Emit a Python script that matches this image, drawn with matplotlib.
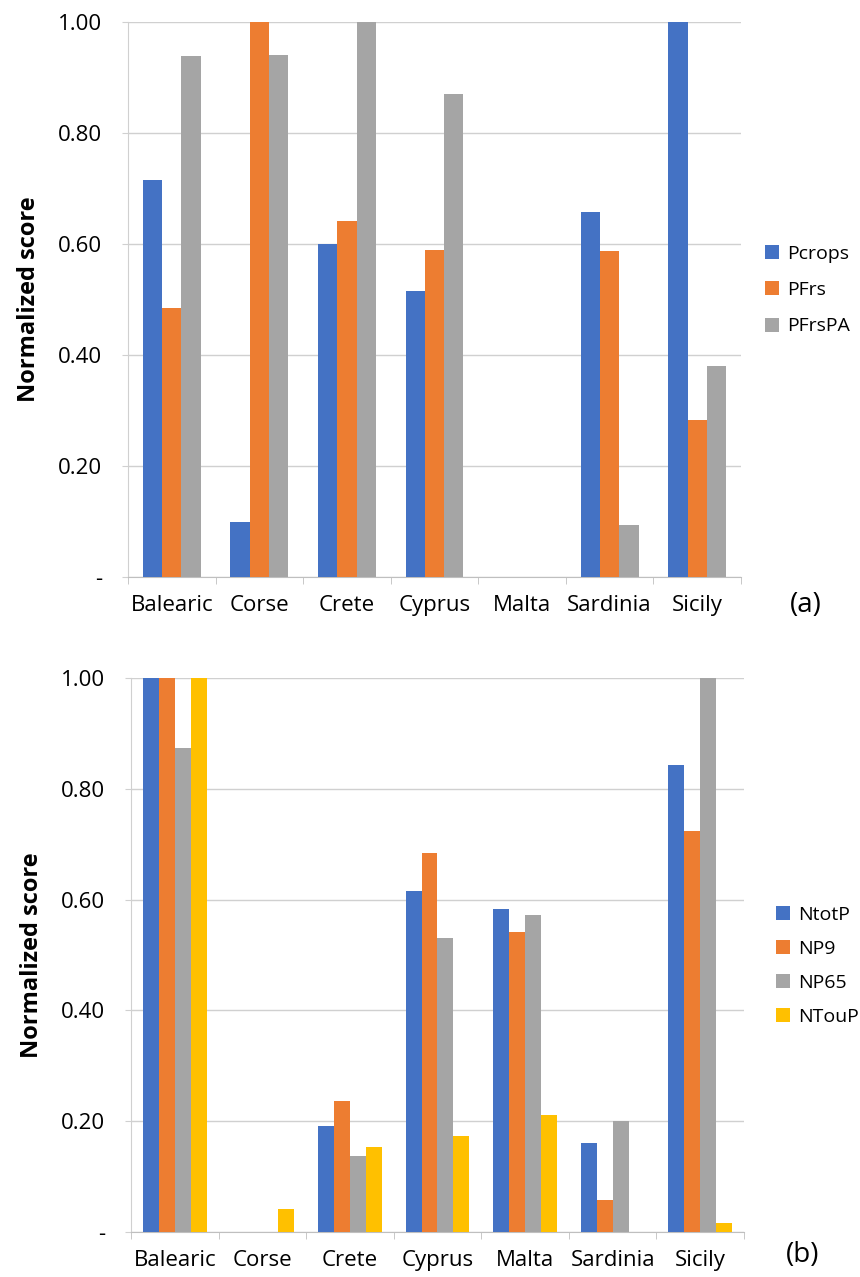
import numpy as np
import matplotlib.pyplot as plt

plt.rcParams['font.family'] = ['Open Sans', 'DejaVu Sans']

islands = ['Balearic', 'Corse', 'Crete', 'Cyprus', 'Malta', 'Sardinia', 'Sicily']

# panel (a)
pcrops = [0.715, 0.099, 0.600, 0.515, 0.0, 0.657, 1.0]
pfrs = [0.485, 1.0, 0.642, 0.590, 0.0, 0.588, 0.283]
pfrspa = [0.938, 0.940, 1.0, 0.871, 0.0, 0.094, 0.380]

# panel (b)
ntotp = [1.0, 0.0, 0.192, 0.616, 0.583, 0.160, 0.844]
np9 = [1.0, 0.0, 0.237, 0.685, 0.541, 0.057, 0.724]
np65 = [0.873, 0.0, 0.138, 0.530, 0.572, 0.200, 1.0]
ntoup = [1.0, 0.042, 0.154, 0.174, 0.211, 0.0, 0.017]

colors = ['#4472C4', '#ED7D31', '#A5A5A5', '#FFC000']
yticks = [0, 0.2, 0.4, 0.6, 0.8, 1.0]
ylabels = ['-', '0.20', '0.40', '0.60', '0.80', '1.00']


def draw(ax, series, names, group_width, tag, tag_pos, leg_anchor, spacing):
    x = np.arange(len(islands))
    n = len(series)
    w = group_width / n
    for i, (vals, name) in enumerate(zip(series, names)):
        ax.bar(x - group_width / 2 + w * (i + 0.5), vals, w, color=colors[i],
               label=name, zorder=3)
    ax.set_xlim(-0.5, len(islands) - 0.5)
    ax.set_ylim(0, 1.0)
    ax.set_yticks(yticks)
    ax.set_yticklabels(ylabels, fontsize=16)
    ax.yaxis.grid(True, color='#D0D0D0', linewidth=1, zorder=0)
    ax.set_xticks(x)
    ax.set_xticklabels(islands, fontsize=16)
    ax.tick_params(axis='x', length=0, pad=13)
    ax.set_xticks(np.arange(len(islands) + 1) - 0.5, minor=True)
    ax.tick_params(axis='x', which='minor', length=5, color='#BFBFBF')
    ax.tick_params(axis='y', length=4.5, color='#D0D0D0', pad=14)
    for s in ['top', 'right']:
        ax.spines[s].set_visible(False)
    ax.spines['left'].set_color('#D0D0D0')
    ax.spines['bottom'].set_color('#BFBFBF')
    ax.set_ylabel('Normalized score', fontsize=17, fontweight='bold', labelpad=12)
    ax.legend(loc='center left', bbox_to_anchor=leg_anchor, frameon=False,
              fontsize=14, handlelength=0.75, handleheight=0.75,
              handletextpad=0.4, labelspacing=spacing,
              borderaxespad=0, borderpad=0)
    ax.text(tag_pos[0], tag_pos[1], tag, transform=ax.transAxes, fontsize=20,
            ha='center', va='center')


fig = plt.figure(figsize=(8.6, 12.77), dpi=100)
ax1 = fig.add_axes([0.1488, 0.5482, 0.7128, 0.4346])
ax2 = fig.add_axes([0.1523, 0.0352, 0.7128, 0.4338])

draw(ax1, [pcrops, pfrs, pfrspa], ['Pcrops', 'PFrs', 'PFrsPA'], 0.66,
     '(a)', (1.106, -0.05), (1.039, 0.517), 0.95)
draw(ax2, [ntotp, np9, np65, ntoup], ['NtotP', 'NP9', 'NP65', 'NTouP'], 0.73,
     '(b)', (1.096, -0.042), (1.052, 0.481), 0.82)

fig.savefig('out.png', dpi=100)
